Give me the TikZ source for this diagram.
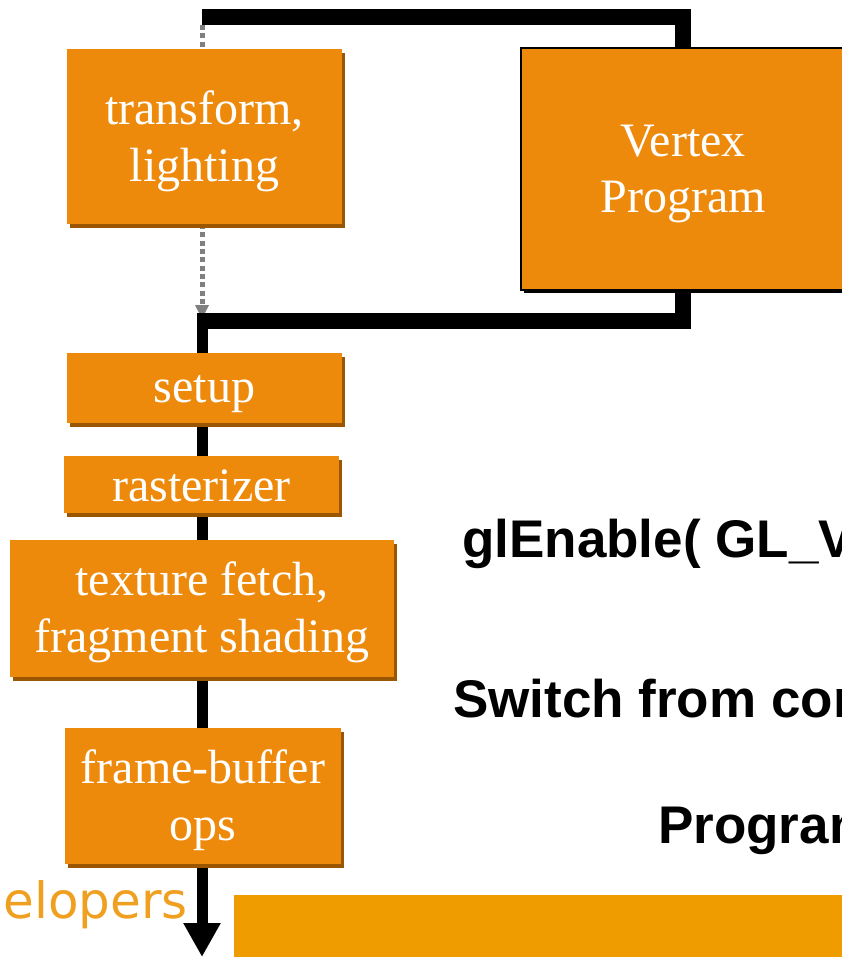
\documentclass[tikz,border=0pt]{standalone}
\usepackage{fontspec}
\setmainfont{Liberation Serif}
\newfontfamily\arialf{Liberation Sans}
\newfontfamily\dvsf{DejaVu Sans}
\usetikzlibrary{arrows.meta,shadows,backgrounds}
\definecolor{boxorange}{RGB}{238,138,11}
\definecolor{boxshadow}{RGB}{154,86,0}
\definecolor{barorange}{RGB}{238,156,0}
\definecolor{logoorange}{RGB}{240,160,32}
\definecolor{dotgray}{RGB}{128,128,128}
\tikzset{
  stagebox/.style={rectangle, fill=boxorange, inner sep=0pt,
    general shadow={fill=boxshadow, shadow xshift=3pt, shadow yshift=-4pt}},
  vpbox/.style={rectangle, fill=boxorange, draw=black, line width=1.5pt, inner sep=0pt,
    general shadow={fill=black, shadow xshift=3pt, shadow yshift=-3pt}},
  stagetext/.style={text=white, inner sep=0pt, align=center, font=\fontsize{48}{57}\selectfont},
  loopline/.style={line width=16pt, black, line cap=butt, line join=miter},
  pipeline/.style={line width=11pt, black, line cap=butt, -{Triangle[width=35pt,length=34pt]}},
  dotline/.style={line width=5pt, dotgray, dash pattern=on 5pt off 3.3pt, -{Triangle[width=13pt,length=14pt]}},
  boldtext/.style={anchor=base west, inner sep=0pt, font=\arialf\bfseries\fontsize{53}{60}\selectfont},
}
\begin{document}
\begin{tikzpicture}[x=1pt,y=-1pt]
\useasboundingbox (0,0) rectangle (842,957);
\clip (0,0) rectangle (842,957);

% stage boxes
\node[stagebox, minimum width=275pt, minimum height=175pt] (tl) at (204.5,136.5) {};
\node[vpbox, minimum width=324pt, minimum height=242pt] (vp) at (683,169) {};
\node[stagebox, minimum width=275pt, minimum height=70pt] (setup) at (204.5,388) {};
\node[stagebox, minimum width=275pt, minimum height=57pt] (rast) at (201.5,484.5) {};
\node[stagebox, minimum width=384pt, minimum height=137pt] (frag) at (202,608.5) {};
\node[stagebox, minimum width=276pt, minimum height=136pt] (fb) at (203,796) {};

% box texts
\node[stagetext] (tltext) at ([yshift=-5pt]tl.center) {transform,\\lighting};
\node[stagetext, font=\fontsize{48}{56}\selectfont] (vptext) at ([yshift=-5pt]vp.center) {Vertex\\Program};
\node[stagetext] (setuptext) at ([yshift=-6pt]setup.center) {setup};
\node[stagetext] (rasttext) at ([yshift=-1pt]rast.center) {rasterizer};
\node[stagetext] (fragtext) at ([yshift=-4pt]frag.center) {texture fetch,\\fragment shading};
\node[stagetext] (fbtext) at ([yshift=-4pt]fb.center) {frame-buffer\\ops};

% junction points
\coordinate (ts) at (202,17);
\coordinate (bs) at (202,321);
\coordinate (ps) at (202,313);
\coordinate (pe) at (202,957);
\coordinate (ds) at (202,25);
\coordinate (de) at (202,319);

\begin{scope}[on background layer]
  \draw[dotline] (ds) -- (de);
  \draw[loopline] (ts) -| (vp.north);
  \draw[loopline] (vp.south) |- (bs);
  \draw[pipeline] (ps) -- (pe);
\end{scope}

% right-hand texts (cut off at the page edge, as in the reference)
\node[boldtext] (t1) at (462,557) {glEnable( GL\_V};
\node[boldtext] (t2) at (453,717) {Switch from con};
\node[boldtext] (t3) at (658,843) {Program};

% footer
\node[anchor=base east, inner sep=0pt, text=logoorange, font=\dvsf\fontsize{50}{60}\selectfont] (logo) at (188,918) {elopers};
\fill[barorange] (234,895) rectangle (850,965);
\end{tikzpicture}
\end{document}
